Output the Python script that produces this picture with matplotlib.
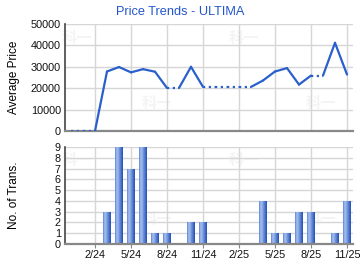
import numpy as np
import pandas as pd
import matplotlib.pyplot as plt
from matplotlib.colors import LinearSegmentedColormap
from matplotlib.patches import Rectangle

# months from 12/23 to 11/25
months = ['12/23', '1/24', '2/24', '3/24', '4/24', '5/24', '6/24', '7/24', '8/24', '9/24',
          '10/24', '11/24', '12/24', '1/25', '2/25', '3/25', '4/25', '5/25', '6/25', '7/25',
          '8/25', '9/25', '10/25', '11/25']
avg_price = [np.nan, np.nan, np.nan, 27800, 29900, 27400, 28900, 27700, 20100, np.nan,
             30000, 20600, np.nan, np.nan, np.nan, np.nan, 23600, 27800, 29400, 21700,
             25900, np.nan, 41200, 26400]
n_trans = [0, 0, 0, 3, 9, 7, 9, 1, 1, 0, 2, 2, 0, 0, 0, 0, 4, 1, 1, 3, 3, 0, 1, 4]
tick_labels = ['2/24', '5/24', '8/24', '11/24', '2/25', '5/25', '8/25', '11/25']

plt.rcParams['font.family'] = ['Liberation Sans', 'Noto Sans CJK SC', 'DejaVu Sans']

x = np.arange(len(months))
price = pd.Series(avg_price)
filled = price.ffill().fillna(0).values
tick_pos = [months.index(t) for t in tick_labels]

fig = plt.figure(figsize=(3.6, 2.7), dpi=100)
ax1 = fig.add_axes([65/360, 1-131/270, 288/360, 107/270])
ax2 = fig.add_axes([65/360, 1-244/270, 288/360, 97/270])

line_col = '#2a5fcc'
grid_col = '#d6d6d6'

for ax in (ax1, ax2):
    ax.set_xlim(-0.5, 23.5)
    ax.set_xticks(tick_pos)
    ax.grid(True, color=grid_col, lw=1.0, zorder=0)
    ax.set_axisbelow(True)
    ax.spines['top'].set_visible(False)
    ax.spines['right'].set_visible(False)
    ax.spines['left'].set_color('#444444')
    ax.spines['left'].set_linewidth(1.2)
    ax.spines['bottom'].set_color('#888888')
    ax.spines['bottom'].set_linewidth(1.6)
    ax.tick_params(axis='y', length=0, labelsize=7.8, pad=3, labelcolor='#111111')
    # watermark
    for wx, wy in [(0.04, 0.86), (0.32, 0.25), (0.62, 0.86), (0.89, 0.25)]:
        ax.text(wx, wy, '科一', transform=ax.transAxes, fontsize=11, fontweight='bold',
                color='#f4f4f4', ha='center', va='center', zorder=0.5)

# price line
for i in range(len(x) - 1):
    ls = (0, (1, 1.6)) if np.isnan(avg_price[i + 1]) else '-'
    ax1.plot(x[i:i + 2], filled[i:i + 2], color=line_col, lw=1.6, ls=ls,
             solid_capstyle='round', zorder=3)
ax1.set_ylim(0, 50000)
ax1.set_yticks(range(0, 50001, 10000))
ax1.tick_params(axis='x', length=0, labelbottom=False)
ax1.set_ylabel('Average Price', fontsize=8.5)
ax1.yaxis.set_label_coords(-0.156, 0.5)

# bars with gradient
bw = 0.66
cmap = LinearSegmentedColormap.from_list('bar', ['#5f86d4', '#a9c1f0', '#7d9fe2', '#4e76cc', '#2450b0'])
grad = np.linspace(0, 1, 64).reshape(1, -1)
for xi, n in zip(x, n_trans):
    if n == 0:
        continue
    rect = Rectangle((xi - bw/2, 0), bw, n, facecolor='none', edgecolor='none')
    ax2.add_patch(rect)
    im = ax2.imshow(grad, cmap=cmap, aspect='auto', extent=[xi - bw/2, xi + bw/2, 0, n],
                    zorder=2)
    im.set_clip_path(rect)
ax2.set_xlim(-0.5, 23.5)
ax2.set_ylim(0, 9)
ax2.set_yticks(range(0, 10))
ax2.set_xticklabels(tick_labels)
ax2.tick_params(axis='x', length=3, color='#888888', labelsize=7.8, pad=1.5, labelcolor='#111111')
ax2.set_ylabel('No. of Trans.', fontsize=8.5)
ax2.yaxis.set_label_coords(-0.156, 0.5)

fig.text(0.5, 1 - 12/270, 'Price Trends - ULTIMA', ha='center', va='center',
         fontsize=9.2, color='#2255cc')

fig.savefig('out.png', dpi=100)
